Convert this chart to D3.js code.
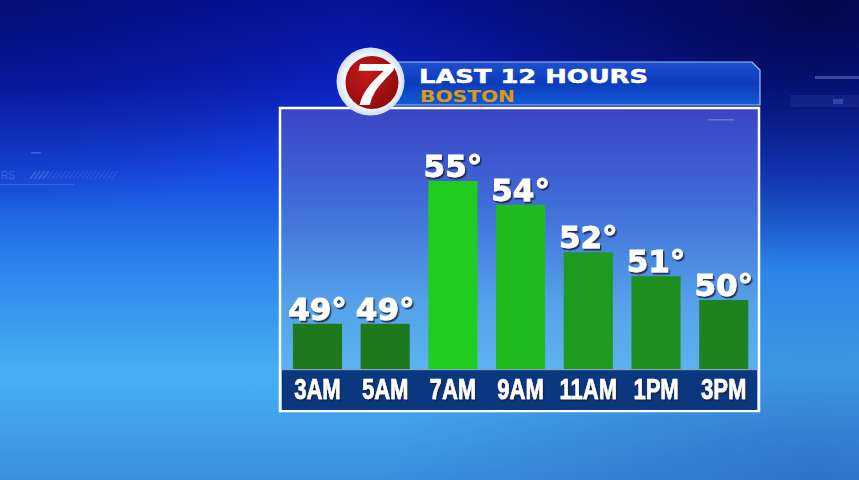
<!DOCTYPE html>
<html>
<head>
<meta charset="utf-8">
<script src="https://cdn.jsdelivr.net/npm/d3@7/dist/d3.min.js"></script>
<style>
  html, body { margin: 0; padding: 0; background: #0a1a9a; }
  svg { display: block; }
</style>
</head>
<body>
<svg id="chart" width="859" height="480"></svg>
<script>
// ---- data ----
const hours = ["3AM", "5AM", "7AM", "9AM", "11AM", "1PM", "3PM"];
const temps = [49, 49, 55, 54, 52, 51, 50];
const titleText = "LAST 12 HOURS";
const cityText = "BOSTON";
const logoText = "7";

const W = 859, H = 480;
const svg = d3.select("#chart");
const defs = svg.append("defs");

// drop shadow filter for labels
const sh = defs.append("filter").attr("id", "shadow").attr("x", "-20%").attr("y", "-20%").attr("width", "150%").attr("height", "150%");
sh.append("feDropShadow").attr("dx", 1.5).attr("dy", 2).attr("stdDeviation", 0.6)
  .attr("flood-color", "#202036").attr("flood-opacity", 0.8);

// background gradient
const bg = defs.append("linearGradient").attr("id", "bg").attr("x1", 0).attr("y1", 0).attr("x2", 0).attr("y2", 1);
[[0, "#08129a"], [0.18, "#0c22c0"], [0.35, "#1648e0"], [0.55, "#2a84ea"], [0.78, "#46b0f4"], [1, "#3a8ee0"]]
  .forEach(([o, c]) => bg.append("stop").attr("offset", o).attr("stop-color", c));
const dark = defs.append("radialGradient").attr("id", "darkTR").attr("cx", 0.95).attr("cy", 0.02).attr("r", 0.55);
dark.append("stop").attr("offset", 0).attr("stop-color", "#020540").attr("stop-opacity", 0.85);
dark.append("stop").attr("offset", 1).attr("stop-color", "#020540").attr("stop-opacity", 0);
const darkL = defs.append("radialGradient").attr("id", "darkTL").attr("cx", 0.0).attr("cy", 0.0).attr("r", 0.45);
darkL.append("stop").attr("offset", 0).attr("stop-color", "#040a60").attr("stop-opacity", 0.6);
darkL.append("stop").attr("offset", 1).attr("stop-color", "#040a60").attr("stop-opacity", 0);
const lowR = defs.append("radialGradient").attr("id", "lowR").attr("cx", 0.95).attr("cy", 1.0).attr("r", 0.5);
lowR.append("stop").attr("offset", 0).attr("stop-color", "#2a60c0").attr("stop-opacity", 0.6);
lowR.append("stop").attr("offset", 1).attr("stop-color", "#2a60c0").attr("stop-opacity", 0);

svg.append("rect").attr("width", W).attr("height", H).attr("fill", "url(#bg)");
svg.append("rect").attr("width", W).attr("height", H).attr("fill", "url(#darkTL)");
svg.append("rect").attr("width", W).attr("height", H).attr("fill", "url(#darkTR)");
svg.append("rect").attr("width", W).attr("height", H).attr("fill", "url(#lowR)");

// faint decorative background graphics
const deco = svg.append("g").attr("opacity", 0.35);
deco.append("rect").attr("x", 815).attr("y", 76).attr("width", 44).attr("height", 3).attr("fill", "#9ab0ff");
deco.append("rect").attr("x", 790).attr("y", 95).attr("width", 69).attr("height", 12).attr("fill", "#2a3aa0");
deco.append("rect").attr("x", 833).attr("y", 99).attr("width", 10).attr("height", 5).attr("fill", "#8a9af0");
deco.append("text").attr("x", 1).attr("y", 179).attr("fill", "#8aa6ff").attr("font-family", "Liberation Sans, Arial, sans-serif")
  .attr("font-size", 10).text("RS");
for (let i = 0; i < 20; i++) {
  deco.append("line").attr("x1", 30 + i * 4.3).attr("y1", 179).attr("x2", 36 + i * 4.3).attr("y2", 171)
    .attr("stroke", "#7a9aff").attr("stroke-width", i < 4 ? 1.6 : 0.8);
}
deco.append("rect").attr("x", 31).attr("y", 152).attr("width", 10).attr("height", 1.5).attr("fill", "#9ab0ff");
deco.append("rect").attr("x", 0).attr("y", 184).attr("width", 75).attr("height", 1.2).attr("fill", "#6a8aff");

// ---- panel ----
const panel = { x: 280, y: 108, w: 479, h: 303 };
const pg = defs.append("linearGradient").attr("id", "panelG").attr("x1", 0).attr("y1", 0).attr("x2", 0).attr("y2", 1);
[[0, "#3a44c4"], [0.3, "#3f6ad8"], [0.65, "#55a2ea"], [1, "#62bcf2"]]
  .forEach(([o, c]) => pg.append("stop").attr("offset", o).attr("stop-color", c));
svg.append("rect").attr("x", panel.x).attr("y", panel.y).attr("width", panel.w).attr("height", panel.h)
  .attr("fill", "url(#panelG)").attr("stroke", "#ffffff").attr("stroke-width", 2.5);
svg.append("rect").attr("x", 708).attr("y", 119).attr("width", 26).attr("height", 1.5).attr("fill", "#8090e0").attr("opacity", 0.6);

// ---- scales ----
const baseY = 369;
const x = d3.scaleBand().domain(hours).range([283.6, 757.6]).paddingInner(0.275).paddingOuter(0.1375);
const y = d3.scaleLinear().domain([47.1, 55]).range([baseY, 181]);
const col = d3.scaleLinear().domain([49, 52, 55]).range(["#1e781e", "#1e9a1e", "#20cc20"]);

// ---- bars ----
svg.append("g").selectAll("rect").data(temps).join("rect")
  .attr("x", (d, i) => x(hours[i]))
  .attr("y", d => y(d))
  .attr("width", x.bandwidth())
  .attr("height", d => baseY - y(d))
  .attr("fill", d => col(d));

// ---- value labels ----
svg.append("g").attr("font-family", "DejaVu Sans, sans-serif").attr("font-weight", "bold")
  .attr("font-size", 31).attr("text-anchor", "middle").attr("filter", "url(#shadow)")
  .selectAll("text").data(temps).join("text")
  .attr("x", (d, i) => x(hours[i]) + x.bandwidth() / 2)
  .attr("y", d => y(d) - 4)
  .attr("fill", "#ffffff").attr("stroke", "#ffffff").attr("stroke-width", 0.9)
  .text(d => d + "°");

// ---- axis band ----
svg.append("rect").attr("x", 282).attr("y", baseY).attr("width", 475).attr("height", 41)
  .attr("fill", "#0b377e");
svg.append("rect").attr("x", 282).attr("y", baseY).attr("width", 475).attr("height", 1.2)
  .attr("fill", "#8aa0c0");

const axis = d3.axisBottom(x).tickSize(0).tickPadding(0);
const ag = svg.append("g").attr("transform", `translate(0,${baseY})`).call(axis);
ag.select(".domain").remove();
ag.selectAll(".tick text")
  .attr("y", 30).attr("dy", 0)
  .attr("font-family", "Liberation Sans, Arial, sans-serif")
  .attr("font-weight", "bold").attr("font-size", 29)
  .attr("fill", "#ffffff")
  .attr("stroke", "#ffffff").attr("stroke-width", 0.6)
  .attr("filter", "url(#shadow)")
  .attr("transform", "scale(0.76,1)");

// ---- header banner ----
const bn = defs.append("linearGradient").attr("id", "bannerG").attr("x1", 0).attr("y1", 0).attr("x2", 0).attr("y2", 1);
[[0, "#1e4fd0"], [0.5, "#0c3cbc"], [1, "#115ad4"]]
  .forEach(([o, c]) => bn.append("stop").attr("offset", o).attr("stop-color", c));
const bx0 = 390, bx1 = 760, by0 = 62, by1 = 105;
svg.append("path")
  .attr("d", `M${bx0},${by0} L${bx1 - 8},${by0} L${bx1},${by0 + 8} L${bx1},${by1} L${bx0},${by1} Z`)
  .attr("fill", "url(#bannerG)").attr("stroke", "#a8c0f0").attr("stroke-width", 1.2);

svg.append("text").attr("x", 419).attr("y", 82.5)
  .attr("font-family", "DejaVu Sans, sans-serif").attr("font-weight", "bold").attr("font-size", 20)
  .attr("fill", "#ffffff").attr("stroke", "#ffffff").attr("stroke-width", 0.5)
  .attr("textLength", 229).attr("lengthAdjust", "spacingAndGlyphs")
  .text(titleText);
svg.append("text").attr("x", 420).attr("y", 101.5)
  .attr("font-family", "DejaVu Sans, sans-serif").attr("font-weight", "bold").attr("font-size", 16)
  .attr("fill", "#dc9a14").attr("textLength", 95).attr("lengthAdjust", "spacingAndGlyphs")
  .text(cityText);

// ---- logo ----
const lg = defs.append("radialGradient").attr("id", "logoRing").attr("cx", 0.5).attr("cy", 0.5).attr("r", 0.5);
lg.append("stop").attr("offset", 0.7).attr("stop-color", "#ffffff");
lg.append("stop").attr("offset", 1).attr("stop-color", "#cfe0f4");
svg.append("circle").attr("cx", 370.5).attr("cy", 81.5).attr("r", 34).attr("fill", "url(#logoRing)");
const rg = defs.append("radialGradient").attr("id", "logoRed").attr("cx", 0.4).attr("cy", 0.35).attr("r", 0.7);
rg.append("stop").attr("offset", 0).attr("stop-color", "#c41a1a");
rg.append("stop").attr("offset", 1).attr("stop-color", "#8e0a0a");
svg.append("circle").attr("cx", 372).attr("cy", 82.5).attr("r", 26.5).attr("fill", "url(#logoRed)");
svg.append("text").attr("x", 373).attr("y", 105)
  .attr("text-anchor", "middle")
  .attr("font-family", "Liberation Sans, Arial, sans-serif").attr("font-weight", "bold").attr("font-style", "italic")
  .attr("font-size", 60).attr("fill", "#ffffff")
  .attr("transform", "translate(373,82) scale(1.15,1) translate(-373,-82)")
  .text(logoText);
</script>
</body>
</html>
